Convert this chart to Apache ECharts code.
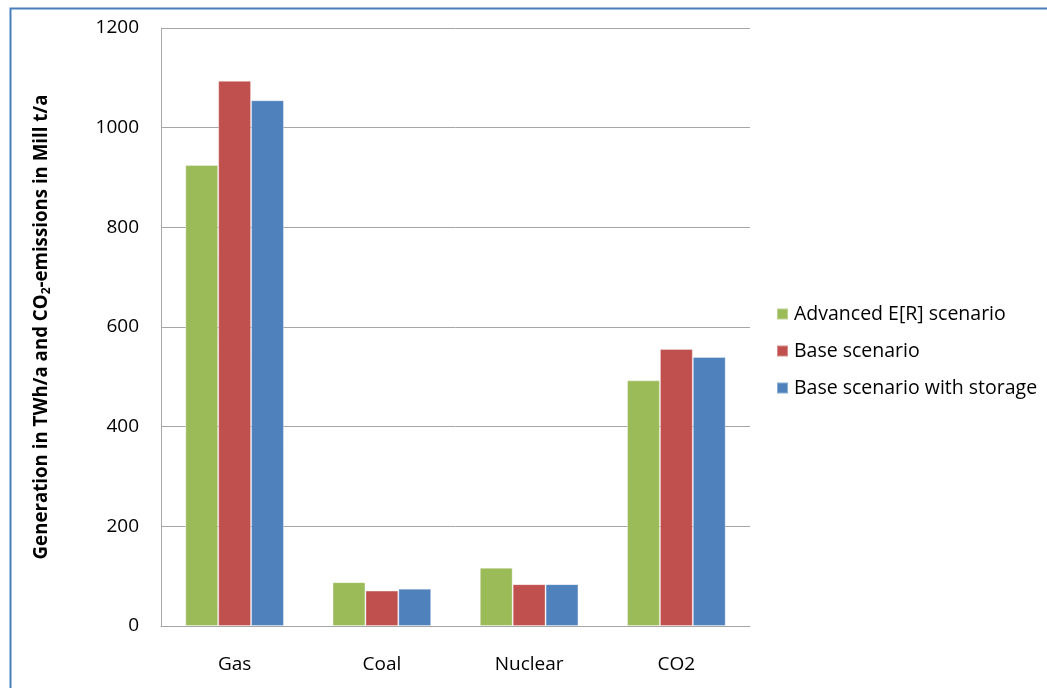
<!DOCTYPE html>
<html>
<head>
<meta charset="utf-8">
<title>Generation and CO2 emissions by scenario</title>
<script src="https://cdn.jsdelivr.net/npm/echarts@6/dist/echarts.min.js"></script>
<style>
  html, body { margin: 0; padding: 0; background: #ffffff; }
  #chart { width: 1047px; height: 688px; }
</style>
</head>
<body>
<div id="chart"></div>
<script>
// Categories along the x axis
const categories = ['Gas', 'Coal', 'Nuclear', 'CO2'];

// Series names
const seriesNames = ['Advanced E[R] scenario', 'Base scenario', 'Base scenario with storage'];

// Values (TWh/a for generation, Mill t/a for CO2)
const advancedER = [925, 88, 117, 493];
const baseScenario = [1094, 71, 84, 556];
const baseWithStorage = [1055, 75, 84, 540];

// Y axis ticks
const yMin = 0;
const yMax = 1200;
const yStep = 200;

const colors = ['#9BBB59', '#C0504D', '#4F81BD'];
const font = 'Open Sans, Liberation Sans, sans-serif';

const chart = echarts.init(document.getElementById('chart'), null, { renderer: 'canvas' });

function bar(name, data, color) {
  return {
    name: name,
    type: 'bar',
    data: data,
    barGap: '0%',
    barCategoryGap: '33%',
    itemStyle: { color: color, borderColor: 'rgba(255,255,255,0.35)', borderWidth: 1 },
    emphasis: { disabled: true }
  };
}

chart.setOption({
  animation: false,
  backgroundColor: '#ffffff',
  color: colors,
  graphic: [{
    type: 'rect',
    left: 8,
    top: 6,
    shape: { width: 1060, height: 700 },
    style: { fill: 'none', stroke: '#4A7EBB', lineWidth: 2 },
    silent: true
  }],
  grid: { left: 161, top: 28, right: 297, bottom: 62 },
  legend: {
    orient: 'vertical',
    left: 771,
    top: 299,
    itemWidth: 11,
    itemHeight: 11,
    itemGap: 17,
    icon: 'rect',
    textStyle: { fontFamily: font, fontSize: 19.5, color: '#000000', padding: [0, 0, 0, 1] },
    data: seriesNames
  },
  xAxis: {
    type: 'category',
    data: categories,
    axisLine: { show: true, lineStyle: { color: '#A6A6A6', width: 1 } },
    axisTick: { show: false },
    axisLabel: { fontFamily: font, fontSize: 19, color: '#000000', margin: 29 }
  },
  yAxis: {
    type: 'value',
    min: yMin,
    max: yMax,
    interval: yStep,
    name: '{a|Generation in TWh/a and CO}{s|2}{a|-emissions in Mill t/a}',
    nameLocation: 'middle',
    nameGap: 108,
    nameRotate: 90,
    nameTextStyle: {
      rich: {
        a: { fontFamily: font, fontSize: 18.7, fontWeight: 'bold', color: '#000000' },
        s: { fontFamily: font, fontSize: 12, fontWeight: 'bold', color: '#000000', padding: [10, 0, 0, 0] }
      }
    },
    axisLine: { show: true, lineStyle: { color: '#A6A6A6', width: 1 } },
    axisTick: { show: false },
    splitLine: { show: true, lineStyle: { color: '#A6A6A6', width: 1 } },
    axisLabel: {
      fontFamily: font, fontSize: 19, color: '#000000', margin: 22,
      formatter: function (v) { return String(v); }
    }
  },
  series: [
    bar(seriesNames[0], advancedER, colors[0]),
    bar(seriesNames[1], baseScenario, colors[1]),
    bar(seriesNames[2], baseWithStorage, colors[2])
  ]
});
</script>
</body>
</html>
